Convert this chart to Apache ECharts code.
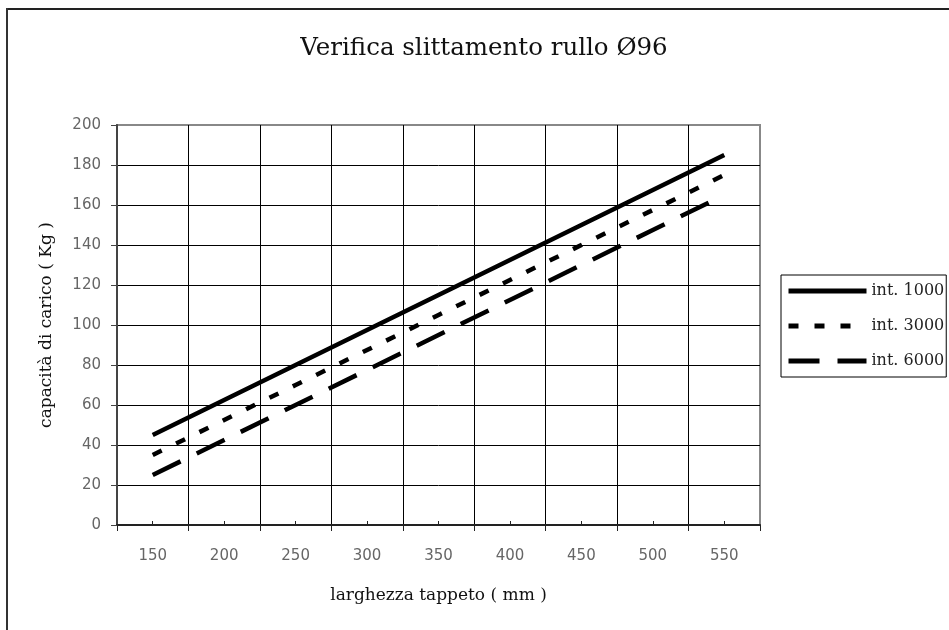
<!DOCTYPE html>
<html>
<head>
<meta charset="utf-8">
<script src="https://cdn.jsdelivr.net/npm/echarts@6/dist/echarts.min.js"></script>
<style>
html,body{margin:0;padding:0;background:#fff;}
#chart{width:949px;height:630px;}
</style>
</head>
<body>
<div id="chart"></div>
<script>
const categories = ['150','200','250','300','350','400','450','500','550'];
const int1000 = [45, 62.5, 80, 97.5, 115, 132.5, 150, 167.5, 185];
const int3000 = [35, 52.5, 70, 87.5, 105, 122.5, 140, 157.5, 175];
const int6000 = [25, 42.5, 60, 77.5, 95, 112.5, 130, 147.5, 165];
const seriesNames = ['int. 1000', 'int. 3000', 'int. 6000'];

const chart = echarts.init(document.getElementById('chart'));
const serif = 'DejaVu Serif';
const tickFont = {fontFamily: 'DejaVu Sans', fontSize: 15, color: '#666'};
const ySplitColors = ['#000','#000','#000','#000','#000','#000','#000','#000','#000','#000','#888'];
const xSplitColors = ['#000','#000','#000','#000','#000','#000','#000','#000','#000','#888'];

chart.setOption({
  animation: false,
  backgroundColor: '#fff',
  title: {
    text: 'Verifica slittamento rullo Ø96',
    left: 479, top: 31, textAlign: 'center',
    textStyle: {fontFamily: serif, fontSize: 24.5, fontWeight: 'normal', color: '#111'}
  },
  graphic: [
    {type: 'line', shape: {x1: 6, y1: 9, x2: 949, y2: 9}, style: {stroke: '#222', lineWidth: 2}},
    {type: 'line', shape: {x1: 7, y1: 8, x2: 7, y2: 630}, style: {stroke: '#333', lineWidth: 2}}
  ],
  grid: {left: 117, right: 189, top: 125, bottom: 105, show: true, borderColor: '#888', borderWidth: 2},
  legend: {
    data: seriesNames,
    orient: 'vertical',
    left: 781, top: 275,
    itemWidth: 78, itemHeight: 14, itemGap: 19,
    padding: [8, 2, 8, 5],
    borderColor: '#000', borderWidth: 1, backgroundColor: '#fff',
    itemStyle: {opacity: 0, borderWidth: 0},
    lineStyle: {width: 5},
    textStyle: {fontFamily: serif, fontSize: 16, color: '#222'}
  },
  xAxis: [
    {
      type: 'category', data: categories, boundaryGap: true,
      name: 'larghezza tappeto ( mm )', nameLocation: 'middle', nameGap: 62,
      nameTextStyle: {fontFamily: serif, fontSize: 17, color: '#111'},
      axisLine: {show: true, lineStyle: {color: '#222', width: 2}},
      axisTick: {show: true, length: 6, lineStyle: {color: '#222', width: 1}},
      axisLabel: Object.assign({margin: 24}, tickFont),
      splitLine: {show: true, lineStyle: {color: xSplitColors, width: 1}}
    },
    {
      type: 'category', data: categories, boundaryGap: true, position: 'bottom',
      axisLine: {show: false},
      axisTick: {show: true, alignWithLabel: true, inside: true, length: 4, lineStyle: {color: '#222', width: 1}},
      axisLabel: {show: false},
      splitLine: {show: false}
    }
  ],
  yAxis: {
    type: 'value', min: 0, max: 200, interval: 20,
    name: 'capacità di carico ( Kg )', nameLocation: 'middle', nameGap: 62, nameRotate: 90,
    nameTextStyle: {fontFamily: serif, fontSize: 17, color: '#111'},
    axisLine: {show: true, lineStyle: {color: '#444', width: 2}},
    axisTick: {show: true, length: 6, lineStyle: {color: '#444', width: 1}},
    axisLabel: Object.assign({margin: 16}, tickFont),
    splitLine: {show: true, lineStyle: {color: ySplitColors, width: 1}}
  },
  series: [
    {name: seriesNames[0], type: 'line', data: int1000, symbol: 'none', xAxisIndex: 0,
     lineStyle: {color: '#000', width: 4.5, type: 'solid'}, itemStyle: {color: '#000'}},
    {name: seriesNames[1], type: 'line', data: int3000, symbol: 'none', xAxisIndex: 0,
     lineStyle: {color: '#000', width: 4.5, type: [10, 16]}, itemStyle: {color: '#000'}},
    {name: seriesNames[2], type: 'line', data: int6000, symbol: 'none', xAxisIndex: 0,
     lineStyle: {color: '#000', width: 4.5, type: [31, 18]}, itemStyle: {color: '#000'}}
  ]
});
</script>
</body>
</html>
